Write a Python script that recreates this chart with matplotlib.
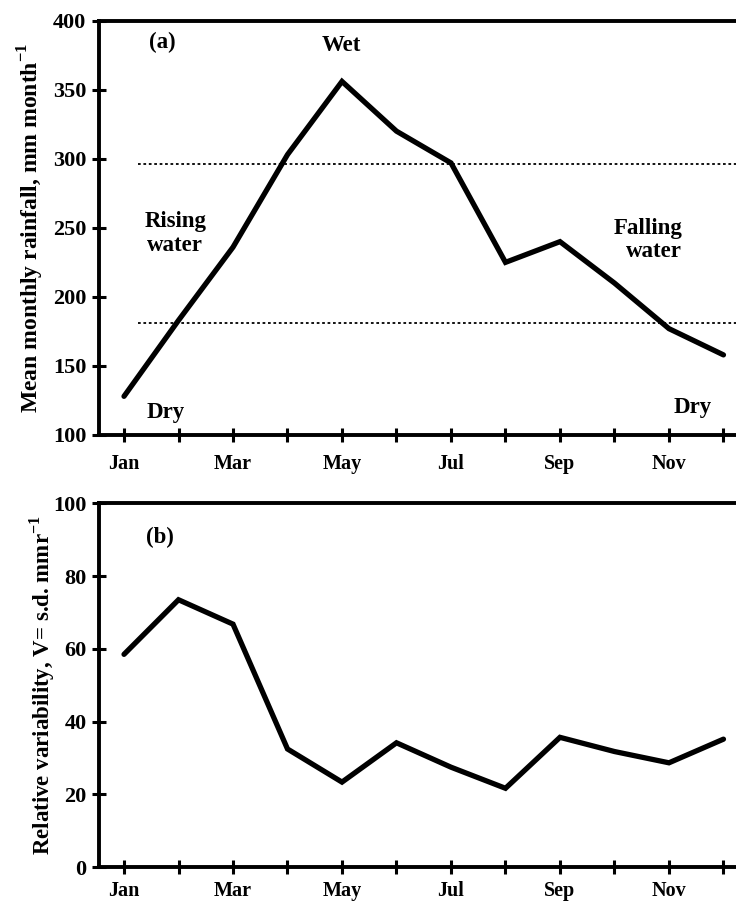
import numpy as np
import matplotlib
matplotlib.use('Agg')
import matplotlib.pyplot as plt

plt.rcParams['font.family'] = ['Liberation Serif', 'DejaVu Serif']
plt.rcParams['font.weight'] = 'bold'
plt.rcParams['mathtext.fontset'] = 'custom'
plt.rcParams['mathtext.rm'] = 'Liberation Serif:bold'
plt.rcParams['mathtext.bf'] = 'Liberation Serif:bold'

# datos
months = np.arange(1, 13)
month_labels = ['Jan', '', 'Mar', '', 'May', '', 'Jul', '', 'Sep', '', 'Nov', '']
rainfall = [128, 183, 236, 303, 356, 320, 297, 225, 240, 210, 177, 158]
variability = [58.5, 73.5, 66.8, 32.5, 23.4, 34.2, 27.5, 21.7, 35.7, 31.8, 28.7, 35.2]
wet_threshold = 296.5
dry_threshold = 181

fig = plt.figure(figsize=(7.36, 9.07), dpi=100)
ax1 = fig.add_axes([0.1345, 0.5204, 0.8655, 0.4568])
ax2 = fig.add_axes([0.1345, 0.0438, 0.8655, 0.4013])

xlim = (0.541, 12.23)

for ax in (ax1, ax2):
    ax.set_xlim(*xlim)
    ax.spines['right'].set_visible(False)
    for s in ('left', 'bottom', 'top'):
        ax.spines[s].set_linewidth(2.8)
    ax.set_xticks(months)
    ax.set_xticklabels(month_labels)
    ax.tick_params(axis='both', direction='inout', length=10, width=2.2)
    ax.tick_params(axis='x', labelsize=14.5)
    ax.tick_params(axis='y', pad=4, labelsize=16)
    for lbl in ax.get_xticklabels() + ax.get_yticklabels():
        lbl.set_fontweight('bold')

ax1.tick_params(axis='x', pad=9)
ax2.tick_params(axis='x', pad=5)

# (a) lluvia media mensual
ax1.plot(months, rainfall, color='black', lw=3.8, solid_capstyle='round',
         solid_joinstyle='miter')
ax1.plot([1.26, xlim[1]], [wet_threshold, wet_threshold], color='black',
         lw=1.3, linestyle=(0, (1.5, 1.5)))
ax1.plot([1.26, xlim[1]], [dry_threshold, dry_threshold], color='black',
         lw=1.3, linestyle=(0, (1.5, 1.5)))
ax1.set_ylim(100, 400)
ax1.set_yticks(np.arange(100, 401, 50))
ax1.set_ylabel('Mean monthly rainfall, mm month$^{\\mathrm{-1}}$',
               fontsize=17, fontweight='bold', labelpad=5)
fs = 16.5
ax1.text(1.70, 384, '(a)', fontsize=fs, fontweight='bold', ha='center', va='center')
ax1.text(4.98, 382, 'Wet', fontsize=fs, fontweight='bold', ha='center', va='center')
ax1.text(1.94, 246, 'Rising\nwater', fontsize=fs, fontweight='bold',
         ha='center', va='center', linespacing=1.15)
ax1.text(1.77, 116, 'Dry', fontsize=fs, fontweight='bold', ha='center', va='center')
ax1.text(10.61, 241, 'Falling\nwater', fontsize=fs, fontweight='bold',
         ha='center', va='center', multialignment='right', linespacing=1.15)
ax1.text(11.44, 120, 'Dry', fontsize=fs, fontweight='bold', ha='center', va='center')

# (b) variabilidad relativa
ax2.plot(months, variability, color='black', lw=3.8, solid_capstyle='round',
         solid_joinstyle='miter')
ax2.set_ylim(0, 100)
ax2.set_yticks(np.arange(0, 101, 20))
ax2.set_ylabel('Relative variability, V= s.d. mmr$^{\\mathrm{-1}}$',
               fontsize=16.5, fontweight='bold', labelpad=-3)
ax2.text(1.66, 90.7, '(b)', fontsize=fs, fontweight='bold', ha='center', va='center')

fig.savefig('out.png', dpi=100)
